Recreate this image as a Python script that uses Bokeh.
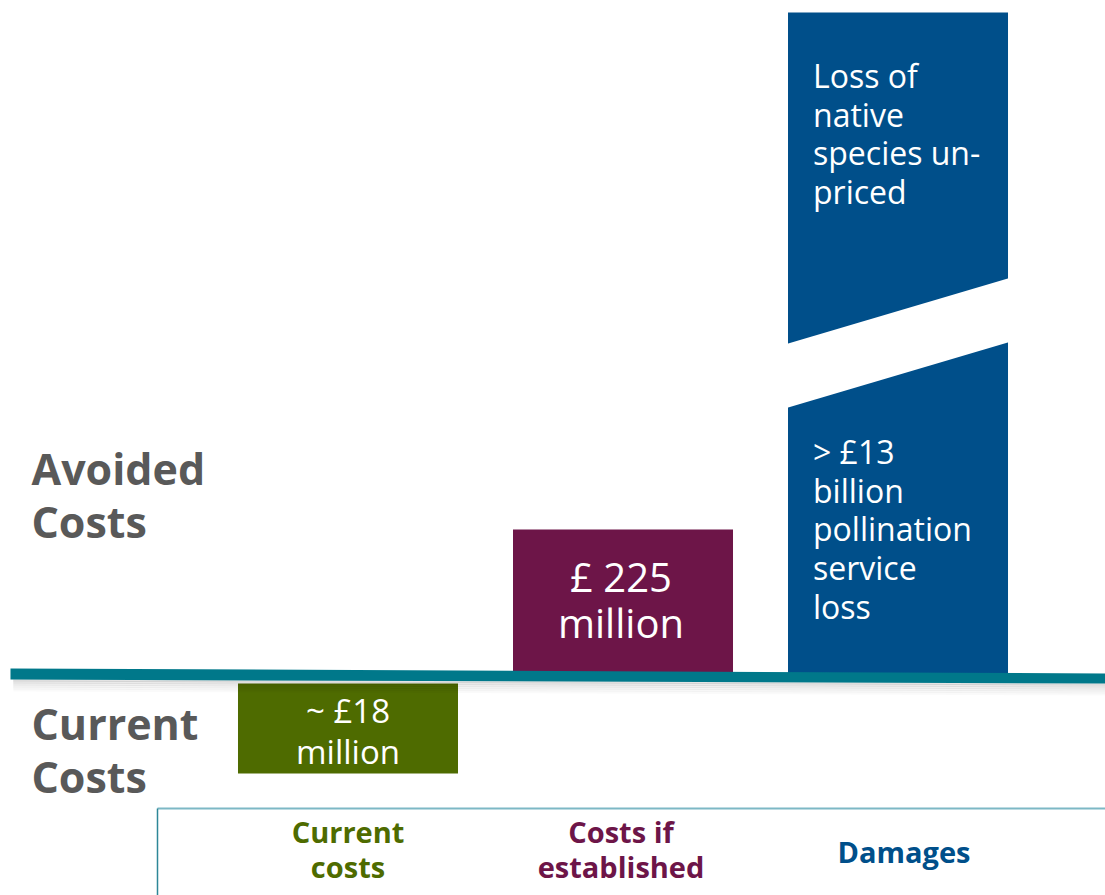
from bokeh.plotting import figure
from bokeh.models import Range1d
from bokeh.core.properties import value
from bokeh.embed import file_html
from bokeh.resources import INLINE

# ---------------- data ----------------
categories = ["Current costs", "Costs if established", "Damages"]
category_lines = [["Current", "costs"], ["Costs if", "established"], ["Damages"]]
category_colors = ["#4E6B00", "#6D1548", "#004F8A"]
bar_top = [-0.10, 1.44, 6.61]        # chart units (baseline = 0)
bar_bottom = [-1.00, 0.00, 0.00]
bar_labels = [["~ £18", "million"], ["£ 225", "million"],
              ["> £13", "billion", "pollination", "service", "loss"]]
unpriced_label = ["Loss of", "native", "species un-", "priced"]
side_labels = [["Avoided", "Costs"], ["Current", "Costs"]]
break_low, break_rise, break_gap = 2.66, 0.65, 0.64

FONT = value("Open Sans")
GREY = "#595959"
TEAL = "#00788A"

xs = list(range(len(categories)))
W = 0.8

p = figure(width=1105, height=895, output_backend="svg", toolbar_location=None,
           x_range=Range1d(-1.2636, 2.7545), y_range=Range1d(-2.22, 6.73),
           min_border=0, outline_line_color=None, background_fill_color="white",
           border_fill_color="white")
p.axis.visible = False
p.grid.visible = False

# bars
p.vbar(x=xs, top=bar_top, bottom=bar_bottom, width=W, color=category_colors, line_color=None)

# break in the damages bar (white slanted band)
bx0, bx1 = xs[2] - W / 2 - 0.03, xs[2] + W / 2 + 0.03
slope = break_rise / W
yl = break_low - slope * 0.03
p.patch([bx0, bx1, bx1, bx0],
        [yl, yl + slope * (bx1 - bx0), yl + slope * (bx1 - bx0) + break_gap, yl + break_gap],
        color="white", line_color=None)

# baseline shadow + teal band
xl, xr = -1.2273, 2.7545
for i, a in enumerate([0.10, 0.08, 0.06, 0.045, 0.03, 0.02]):
    d = 0.02 + 0.02 * i
    p.patch([xl + 0.01, xr, xr, xl + 0.01],
            [-0.06 - d + 0.03, -0.10 - d + 0.03, -0.10 - d, -0.06 - d],
            color="black", alpha=a, line_color=None)
p.patch([xl, xr, xr, xl], [0.05, 0.0, -0.10, -0.06], color=TEAL, line_color=None)


def label(x, y, t, size, color, align="center", bold=False, x_offset=0):
    p.text(x=[x], y=[y], text=[t], text_font=FONT, text_font_size=size,
           text_font_style="bold" if bold else "normal", text_color=color,
           text_align=align, text_baseline="middle", x_offset=x_offset)


# bar labels
for i, t in enumerate(bar_labels[0]):
    label(xs[0], -0.37 - 0.405 * i, t, "33px", "white")
for i, t in enumerate(bar_labels[1]):
    label(xs[1], 0.975 - 0.46 * i, t, "40px", "white", x_offset=-2)
for i, t in enumerate(bar_labels[2]):
    label(xs[2] - W / 2, 2.22 - 0.387 * i, t, "32px", "white", align="left", x_offset=25)
for i, t in enumerate(unpriced_label):
    label(xs[2] - W / 2, 5.98 - 0.385 * i, t, "32px", "white", align="left", x_offset=25)

# side labels
for ys, lines in zip([[2.05, 1.525], [-0.50, -1.025]], side_labels):
    for yy, t in zip(ys, lines):
        label(-1.151, yy, t, "43px", GREY, align="left", bold=True)

# category box
bl = -0.6927
p.line([bl, 2.7545], [-1.35, -1.35], line_color="#7DB8C5", line_width=2)
p.line([bl, bl], [-1.35, -2.22], line_color="#2D8798", line_width=1.5)

cat_y = {1: [-1.78], 2: [-1.58, -1.93]}
cat_dx = [0, -2, 6]
for x, lines, c, dx in zip(xs, category_lines, category_colors, cat_dx):
    for yy, t in zip(cat_y[len(lines)], lines):
        label(x, yy, t, "29px", c, bold=True, x_offset=dx)

open("out.html", "w").write(file_html(p, INLINE))
